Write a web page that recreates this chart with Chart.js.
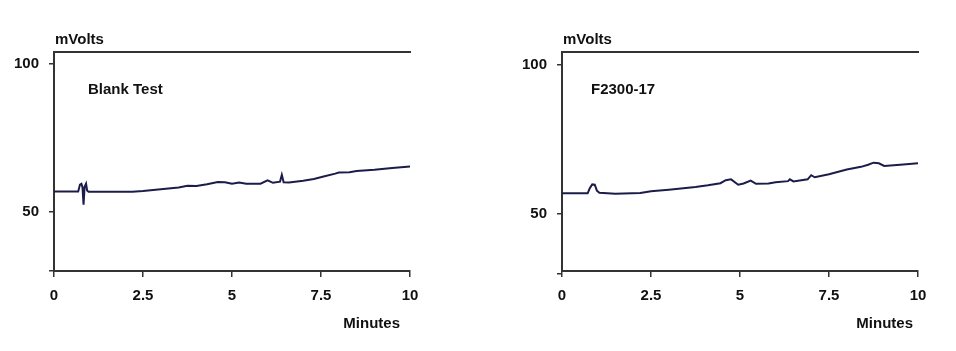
<!DOCTYPE html>
<html>
<head>
<meta charset="utf-8">
<script src="https://cdn.jsdelivr.net/npm/chart.js@4"></script>
<style>
  body { margin: 0; background: #fff; }
  #wrap { position: relative; width: 956px; height: 351px; }
  #c1 { position: absolute; left: 0; top: 0; }
  #c2 { position: absolute; left: 508px; top: 0; }
</style>
</head>
<body>
<div id="wrap">
  <canvas id="c1" width="478" height="351"></canvas>
  <canvas id="c2" width="448" height="351"></canvas>
</div>
<script>
// tick labels
const xTicks = [0, 2.5, 5, 7.5, 10];
const yTicks = [30, 50, 100];
const yLabels = ['', '50', '100'];

// Blank Test trace (minutes, mVolts)
const blankTime = [0, 0.68, 0.73, 0.77, 0.8, 0.83, 0.86, 0.9, 0.93, 0.97, 1.5, 2.2, 2.5, 3.0, 3.5, 3.75, 4.0, 4.3, 4.6, 4.8, 5.0, 5.2, 5.4, 5.8, 6.0, 6.15, 6.35, 6.4, 6.45, 6.6, 7.0, 7.3, 7.6, 7.9, 8.0, 8.3, 8.5, 9.0, 9.5, 10.0, 10.1];
const blankMv = [56.9, 56.9, 59.2, 59.5, 58.3, 52.4, 58.5, 59.5, 57.2, 56.8, 56.8, 56.8, 57.0, 57.6, 58.2, 58.8, 58.7, 59.3, 60.1, 60.0, 59.5, 59.9, 59.5, 59.5, 60.6, 59.8, 60.2, 62.5, 60.0, 59.9, 60.5, 61.1, 62.0, 62.9, 63.3, 63.4, 63.8, 64.2, 64.8, 65.3, 65.9];

// F2300-17 trace
const sampleTime = [0, 0.72, 0.78, 0.85, 0.92, 0.98, 1.05, 1.5, 2.2, 2.5, 3.0, 3.75, 4.1, 4.45, 4.6, 4.75, 4.95, 5.1, 5.3, 5.45, 5.8, 6.0, 6.35, 6.4, 6.5, 6.9, 7.0, 7.1, 7.5, 8.0, 8.4, 8.6, 8.75, 8.9, 9.05, 9.5, 10.0, 10.2];
const sampleMv = [56.9, 56.9, 58.6, 59.9, 59.8, 57.8, 57.1, 56.8, 57.0, 57.6, 58.1, 59.0, 59.6, 60.3, 61.3, 61.6, 59.8, 60.2, 61.2, 60.1, 60.2, 60.6, 61.0, 61.6, 60.9, 61.6, 63.0, 62.3, 63.3, 64.9, 65.8, 66.5, 67.2, 67.0, 66.1, 66.5, 67.0, 67.8];

const FONT = 'Liberation Sans, Arial, sans-serif';
const AXIS = '#333';
const INK = '#111';

function pts(xs, ys) {
    return xs.map((x, i) => ({ x: x, y: ys[i] }));
}

function makeChart(id, name, times, values, yMin, yMax, nameDx, unitDx) {
    const labelsPlugin = {
        id: 'labels' + id,
        afterDraw(chart) {
            const ctx = chart.ctx;
            const a = chart.chartArea;
            ctx.save();
            ctx.fillStyle = INK;
            ctx.font = 'bold 15px ' + FONT;
            ctx.textBaseline = 'alphabetic';
            ctx.textAlign = 'left';
            ctx.fillText('mVolts', a.left + 1, a.top - 8);
            ctx.fillText(name, a.left + nameDx, a.top + 42);
            ctx.textAlign = 'right';
            ctx.fillText('Minutes', a.right - unitDx, a.bottom + 57);
            ctx.restore();
        }
    };
    const canvas = document.getElementById(id);
    return new Chart(canvas, {
        type: 'line',
        data: {
            datasets: [{
                data: pts(times, values),
                borderColor: '#1c1c4a',
                borderWidth: 2,
                pointRadius: 0,
                tension: 0,
                clip: false
            }]
        },
        options: {
            responsive: false,
            animation: false,
            events: [],
            layout: { padding: { left: 0, top: 52, right: canvas.width - 410, bottom: 0 } },
            plugins: { legend: { display: false }, tooltip: { enabled: false } },
            scales: {
                x: {
                    type: 'linear',
                    position: 'bottom',
                    min: 0,
                    max: 10,
                    afterBuildTicks: (s) => { s.ticks = xTicks.map(v => ({ value: v })); },
                    afterFit: (s) => { s.height = 80; },
                    grid: { drawOnChartArea: false, drawTicks: true, tickLength: 6, color: AXIS, lineWidth: 1.5 },
                    border: { display: true, color: AXIS, width: 2 },
                    ticks: {
                        padding: 10,
                        color: INK,
                        maxRotation: 0,
                        font: { family: FONT, size: 15, weight: 'bold' },
                        callback: (v) => String(v)
                    }
                },
                top: {
                    type: 'linear',
                    position: 'top',
                    min: 0,
                    max: 10,
                    afterFit: (s) => { s.height = 0; },
                    grid: { display: false },
                    border: { display: true, color: AXIS, width: 2 },
                    ticks: { display: false }
                },
                y: {
                    type: 'linear',
                    position: 'left',
                    min: yMin,
                    max: yMax,
                    afterBuildTicks: (s) => { s.ticks = yTicks.map(v => ({ value: v })); },
                    afterFit: (s) => { s.width = 54; },
                    grid: { drawOnChartArea: false, drawTicks: true, tickLength: 5, color: AXIS, lineWidth: 1.5 },
                    border: { display: true, color: AXIS, width: 2 },
                    ticks: {
                        padding: 10,
                        color: INK,
                        font: { family: FONT, size: 15, weight: 'bold' },
                        callback: (v) => yLabels[yTicks.indexOf(v)]
                    }
                }
            }
        },
        plugins: [labelsPlugin]
    });
}

makeChart('c1', 'Blank Test', blankTime, blankMv, 30, 104, 34, 10);
makeChart('c2', 'F2300-17', sampleTime, sampleMv, 30.8, 104.4, 29, 5);
</script>
</body>
</html>
